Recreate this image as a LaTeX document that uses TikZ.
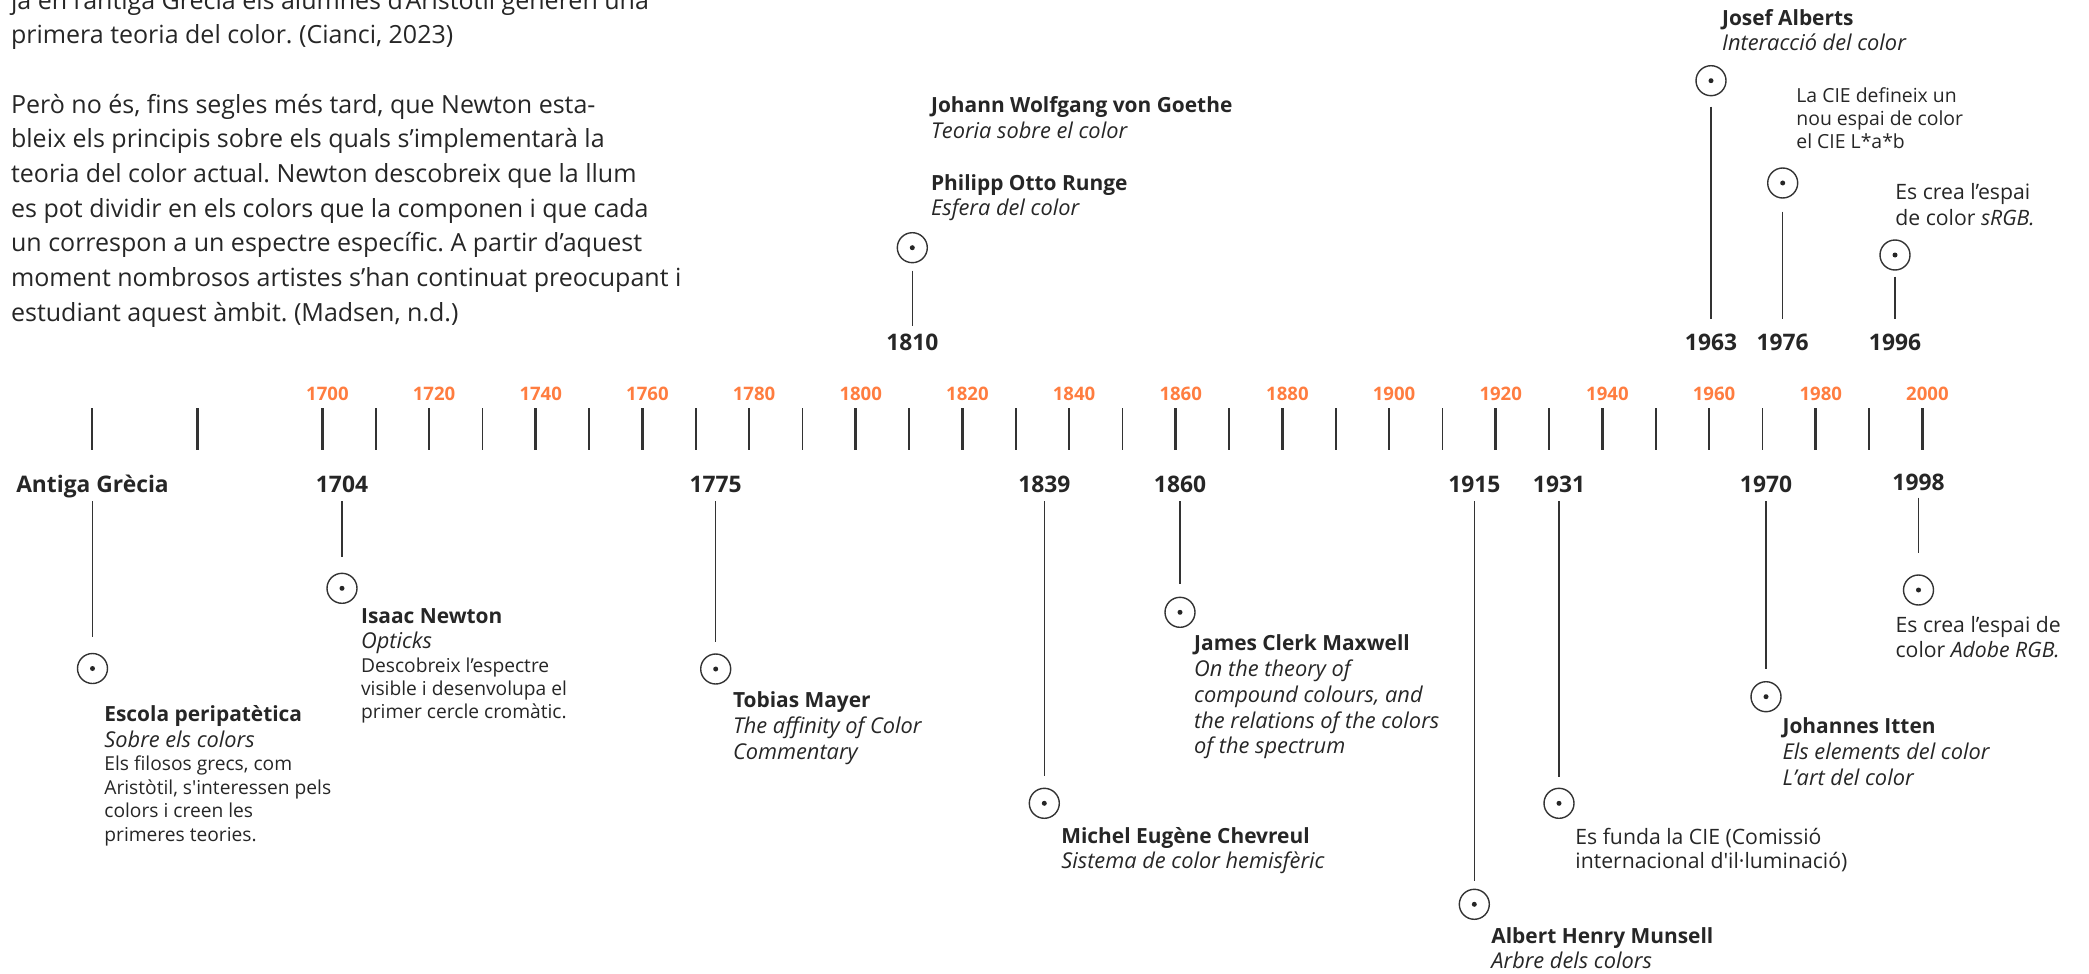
\documentclass[tikz,border=0pt]{standalone}
\usepackage{fontspec}
\setmainfont{Open Sans}
\frenchspacing
\definecolor{ink}{HTML}{262626}
\definecolor{lin}{HTML}{333333}
\definecolor{orng}{HTML}{FF7D40}
\newcommand\Ttl[1]{\hbox{\fontsize{10.45}{12}\selectfont\bfseries #1}}
\newcommand\Itl[1]{\hbox{\fontsize{10.9}{12}\selectfont\itshape #1}}
\newcommand\Dsc[1]{\hbox{\fontsize{9.6}{11}\selectfont #1}}
\newcommand\Dss[1]{\hbox{\fontsize{9.7}{11}\selectfont #1}}
\newcommand\Nte[1]{\hbox{\fontsize{10.6}{11}\selectfont #1}}
\newcommand\Bsk[1]{\baselineskip=#1\relax}
\tikzset{
 txt/.style={anchor=base west, inner sep=0pt, text=ink},
 yr/.style={anchor=base, inner sep=0pt, text=ink, font=\fontsize{11.4}{13}\selectfont\bfseries, text height=8pt, text depth=0pt},
 yro/.style={anchor=base, inner sep=0pt, text=orng, font=\fontsize{9.3}{11}\selectfont\bfseries},
 evc/.style={circle, draw=lin, line width=0.7pt, minimum size=15pt, inner sep=0pt,
   path picture={\fill[ink] (path picture bounding box.center) circle[radius=1.25pt];}},
 conn/.style={draw=lin, line width=0.7pt},
 tickM/.style={draw=lin, line width=1.4pt},
 tickm/.style={draw=lin, line width=0.8pt},
}
\begin{document}
\begin{tikzpicture}[x=0.5pt,y=-0.5pt]
\useasboundingbox (0,0) rectangle (2089,974);
% paragraph
\node[txt] (para) at (10.7,9.3) {\vtop{\fontsize{12.5}{17.33}\selectfont
\hbox{ja en l’antiga Grècia els alumnes d’Aristòtil generen una}
\hbox{primera teoria del color. (Cianci, 2023)}
\hbox{}
\hbox{Però no és, fins segles més tard, que Newton esta-}
\hbox{bleix els principis sobre els quals s’implementarà la}
\hbox{teoria del color actual. Newton descobreix que la llum}
\hbox{es pot dividir en els colors que la componen i que cada}
\hbox{un correspon a un espectre específic. A partir d’aquest}
\hbox{moment nombrosos artistes s’han continuat preocupant i}
\hbox{estudiant aquest àmbit. (Madsen, n.d.)}}};
% axis ticks
\draw[tickM] (91.9,408) -- ++(0,42);
\draw[tickM] (197.2,408) -- ++(0,42);
\foreach \d in {1700,1720,...,2000}{
  \draw[tickM] ({322.4+(\d-1700)*5.3333},408) -- ++(0,42);
  \node[yro] (o\d) at ({327.4+(\d-1700)*5.3333},400) {\d};
}
\foreach \d in {1710,1730,...,1990}{
  \draw[tickm] ({322.4+(\d-1700)*5.3333},408) -- ++(0,42);
}
% ---- lower events
\node[yr] (yAG) at (92.5,492.7) {Antiga Grècia};
\node[evc] (cAG) at (92.5,668.5) {};
\draw[conn, shorten <=4pt, shorten >=7.9pt] (yAG.south) -- (cAG.north);
\node[txt] (tAG) at (104,721) {\vtop{\Bsk{13pt}\Ttl{Escola peripatètica}\Itl{Sobre els colors}\Bsk{11.8pt}\Dsc{Els filosos grecs, com}\Dsc{Aristòtil, s\textquotesingle interessen pels}\Dsc{colors i creen les}\Dsc{primeres teories.}}};

\node[yr] (y1704) at (342,492.7) {1704};
\node[evc] (c1704) at (342,588.3) {};
\draw[conn, shorten <=4pt, shorten >=8pt] (y1704.south) -- (c1704.north);
\node[txt] (t1704) at (360.7,623) {\vtop{\Bsk{12.85pt}\Ttl{Isaac Newton}\Itl{Opticks}\Bsk{11.7pt}\Dsc{Descobreix l’espectre}\Dsc{visible i desenvolupa el}\Dsc{primer cercle cromàtic.}}};

\node[yr] (y1775) at (715.7,492.7) {1775};
\node[evc] (c1775) at (715.7,669) {};
\draw[conn, shorten <=4pt, shorten >=5.5pt] (y1775.south) -- (c1775.north);
\node[txt] (t1775) at (732.6,707.7) {\vtop{\Bsk{12.9pt}\Ttl{Tobias Mayer}\Itl{The affinity of Color}\Itl{Commentary}}};

\node[yr] (y1839) at (1044.3,492.7) {1839};
\node[evc] (c1839) at (1044.3,803.3) {};
\draw[conn, shorten <=4pt, shorten >=5.65pt] (y1839.south) -- (c1839.north);
\node[txt] (t1839) at (1061,843) {\vtop{\Bsk{12.5pt}\Ttl{Michel Eugène Chevreul}\Itl{Sistema de color hemisfèric}}};

\node[yr] (y1860) at (1180,492.7) {1860};
\node[evc] (c1860) at (1180,612.3) {};
\draw[conn, shorten <=4pt, shorten >=6.15pt] (y1860.south) -- (c1860.north);
\node[txt] (t1860) at (1193.8,650.3) {\vtop{\Bsk{12.95pt}\Ttl{James Clerk Maxwell}\Itl{On the theory of}\Itl{compound colours, and}\Itl{the relations of the colors}\Itl{of the spectrum}}};

\node[yr] (y1915) at (1474.3,492.7) {1915};
\node[evc] (c1915) at (1474.3,904.3) {};
\draw[conn, shorten <=4pt, shorten >=3.8pt] (y1915.south) -- (c1915.north);
\node[txt] (t1915) at (1491,943.7) {\vtop{\Bsk{12.5pt}\Ttl{Albert Henry Munsell}\Itl{Arbre dels colors}}};

\node[yr] (y1931) at (1559,492.7) {1931};
\node[evc] (c1931) at (1559,803.3) {};
\draw[conn, shorten <=4pt, shorten >=5.5pt] (y1931.south) -- (c1931.north);
\node[txt] (t1931) at (1575,844) {\vtop{\Bsk{12.2pt}\Nte{Es funda la CIE (Comissió}\Nte{internacional d\textquotesingle il·luminació)}}};

\node[yr] (y1970) at (1766,492.7) {1970};
\node[evc] (c1970) at (1766,696.7) {};
\draw[conn, shorten <=4pt, shorten >=6.2pt] (y1970.south) -- (c1970.north);
\node[txt] (t1970) at (1782.2,733.7) {\vtop{\Bsk{12.9pt}\Ttl{Johannes Itten}\Itl{Els elements del color}\Itl{L’art del color}}};

\node[yr] (y1998) at (1918.5,490) {1998};
\node[evc] (c1998) at (1918.5,590) {};
\draw[conn, shorten <=3.65pt, shorten >=10.5pt] (y1998.south) -- (c1998.north);
\node[txt] (t1998) at (1895.2,632) {\vtop{\Bsk{12.85pt}\Nte{Es crea l’espai de}\Nte{color \textit{Adobe RGB.}}}};

% ---- upper events
\node[yr] (y1810) at (912.3,350) {1810};
\node[evc] (c1810) at (912.3,247.7) {};
\draw[conn, shorten <=3.65pt, shorten >=3.65pt] (c1810.south) -- (y1810.north);
\node[txt] (tGoethe) at (930.7,113) {\vtop{\Bsk{12.85pt}\Ttl{Johann Wolfgang von Goethe}\Itl{Teoria sobre el color}}};
\node[txt] (tRunge) at (930.7,190.3) {\vtop{\Bsk{12.5pt}\Ttl{Philipp Otto Runge}\Itl{Esfera del color}}};

\node[yr] (y1963) at (1711,350) {1963};
\node[evc] (c1963) at (1711,80.7) {};
\draw[conn, shorten <=5.15pt, shorten >=7.35pt] (c1963.south) -- (y1963.north);
\node[txt] (t1963) at (1721.7,25.3) {\vtop{\Bsk{12.5pt}\Ttl{Josef Alberts}\Itl{Interacció del color}}};

\node[yr] (y1976) at (1782.7,350) {1976};
\node[evc] (c1976) at (1782.7,183) {};
\draw[conn, shorten <=6.5pt, shorten >=7.35pt] (c1976.south) -- (y1976.north);
\node[txt] (t1976) at (1796,102.7) {\vtop{\Bsk{11.5pt}\Dss{La CIE defineix un}\Dss{nou espai de color}\Dss{el CIE L*a*b}}};

\node[yr] (y1996) at (1895,350) {1996};
\node[evc] (c1996) at (1895,255) {};
\draw[conn, shorten <=3pt, shorten >=7.35pt] (c1996.south) -- (y1996.north);
\node[txt] (t1996) at (1895,199.5) {\vtop{\Bsk{12.8pt}\Nte{Es crea l’espai}\Nte{de color \textit{sRGB.}}}};
\end{tikzpicture}
\end{document}
